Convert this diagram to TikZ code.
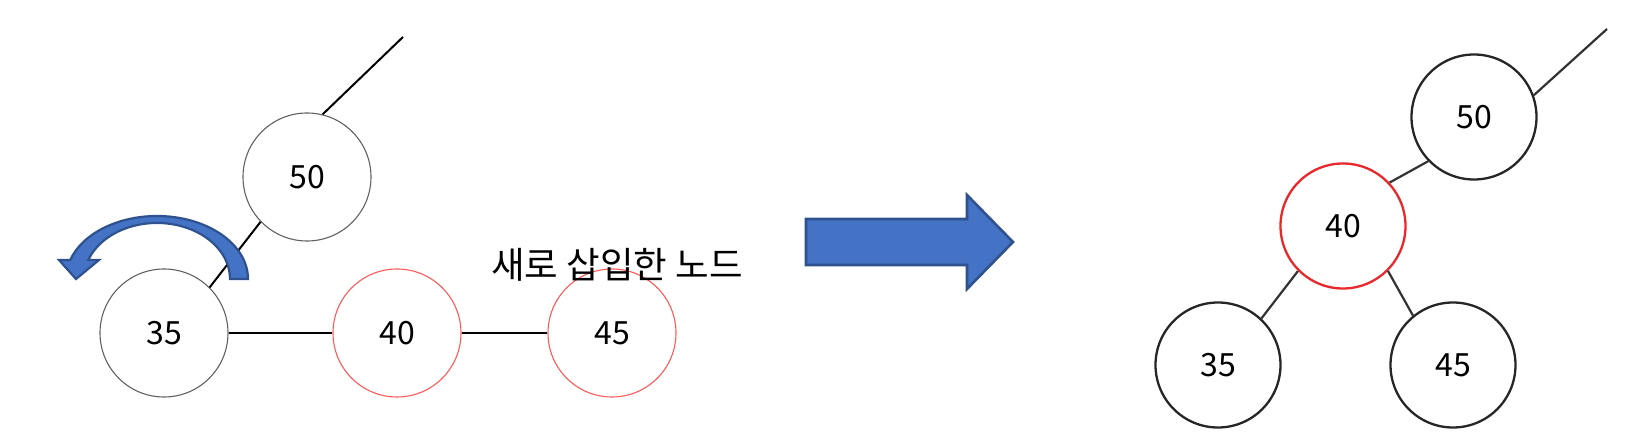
\documentclass[tikz,border=0pt]{standalone}
\usepackage{fontspec}
\newfontfamily\kr{Noto Sans CJK KR}
\definecolor{arrfill}{HTML}{4472C4}
\definecolor{arrline}{HTML}{2F528F}
\definecolor{lred}{HTML}{FF5A5A}
\definecolor{rred}{HTML}{E8282B}
\begin{document}
\begin{tikzpicture}[x=1pt,y=1pt,
  numfont/.style={font=\kr\fontsize{32}{36}\selectfont},
  lnode/.style={circle, draw=black!62, line width=1.1pt, minimum size=128pt, inner sep=0pt, numfont},
  lrednode/.style={lnode, draw=lred},
  rnode/.style={circle, draw=black!85, line width=2.3pt, minimum size=125pt, inner sep=0pt, numfont},
  rrednode/.style={rnode, draw=rred},
  lconn/.style={line width=2pt, black},
  rconn/.style={line width=2.2pt, black!80},
  blockarrow/.style={fill=arrfill, draw=arrline, line width=2.6pt, line join=miter},
  lbl/.style={font=\kr\fontsize{36.5}{40}\selectfont, inner sep=0pt}]
\useasboundingbox (0,0) rectangle (1639,442);

% ---- left: before rotation ----
\node[lnode] (l50) at (307,265) {50};
\node[lnode] (l35) at (164,109) {35};
\node[lrednode] (l40) at (397,109) {40};
\node[lrednode] (l45) at (612,109) {45};
\coordinate (ltop) at (403,405);

\draw[lconn] (l50.76) -- (ltop);
\draw[lconn] (l35.45) -- (l50.224);
\draw[lconn] (l35.east) -- (l40.west);
\draw[lconn] (l40.east) -- (l45.west);

\node[lbl] (newlbl) at (617,177) {새로 삽입한 노드};

% curved rotation arrow
\draw[blockarrow, line width=2.2pt]
  (248,163) arc[start angle=0, end angle=162.5, x radius=91, y radius=63]
  -- (59,182) -- (76,163) -- (99,182) -- (88.3,182)
  arc[start angle=160.2, end angle=0, x radius=73, y radius=56] -- cycle;

% ---- block arrow ----
\draw[blockarrow] (806,177) -- (967,177) -- (967,153) -- (1013,200)
  -- (967,247) -- (967,223) -- (806,223) -- cycle;

% ---- right: after rotation ----
\node[rnode] (r50) at (1474,325) {50};
\node[rrednode] (r40) at (1343,216) {40};
\node[rnode] (r35) at (1218,77) {35};
\node[rnode] (r45) at (1453,77) {45};
\coordinate (rtop) at (1607,413);

\draw[rconn] (r50.20) -- (rtop);
\draw[rconn] (r50.224) -- (r40.43);
\draw[rconn] (r40.225) -- (r35.47);
\draw[rconn] (r40.315) -- (r45.129);
\end{tikzpicture}
\end{document}
